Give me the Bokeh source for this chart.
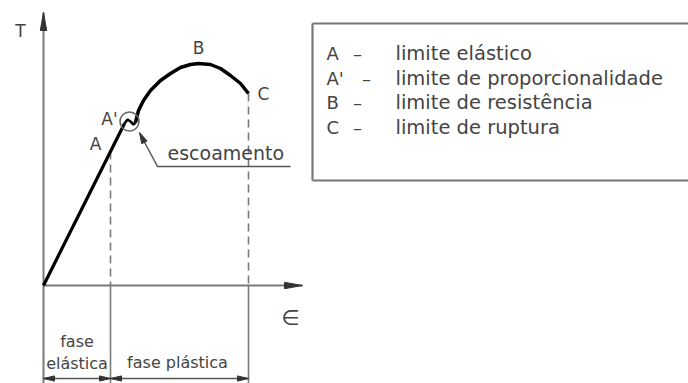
import numpy as np
from bokeh.plotting import figure
from bokeh.models import Range1d
from bokeh.core.properties import value
from bokeh.embed import file_html
from bokeh.resources import INLINE

# ---- data (strain ε, stress T in diagram units) ----
elastic_strain = [0, 81]
elastic_stress = [0, 162]
yield_strain = [81, 84, 87, 90, 92]
yield_stress = [162, 166, 164, 161, 163]
plastic_strain = [92, 95, 100, 107, 117, 127, 137, 147, 155, 167, 177, 187, 197, 205]
plastic_stress = [163, 175, 185, 195, 205, 212, 218, 221, 222, 221, 217, 210, 202, 192]

point_labels = ["A", "A'", "B", "C"]
legend_keys = ["A", "A'", "B", "C"]
legend_texts = ["limite elástico", "limite de proporcionalidade",
                "limite de resistência", "limite de ruptura"]
phase_labels = ["fase\nelástica", "fase plástica"]

# key positions derived from data
eps_A = 67                      # end of elastic phase (strain at A)
eps_C = plastic_strain[-1]      # rupture strain
T_A = elastic_stress[1] / elastic_strain[1] * eps_A
T_C = plastic_stress[-1]
iB = int(np.argmax(plastic_stress))

FONT = value("DejaVu Sans")
TXT = "#444444"
AX = "#7a7a7a"

p = figure(width=688, height=383, x_range=Range1d(-43, 645), y_range=Range1d(-98, 285),
           output_backend="svg", toolbar_location=None, min_border=0,
           x_axis_type=None, y_axis_type=None)
p.grid.visible = False
p.outline_line_color = None
p.background_fill_color = "white"
p.border_fill_color = "white"


def head(tx, ty, dx, dy, length, hw, color):
    n = np.hypot(dx, dy)
    ux, uy = dx / n, dy / n
    bx, by = tx - ux * length, ty - uy * length
    px, py = -uy * hw, ux * hw
    p.patch([tx, bx + px, bx - px], [ty, by + py, by - py], color=color, line_color=color)


y_top, y_bot, x_end = 273, -98, 259
# axes
p.segment(x0=[0, 0], y0=[y_bot, 0], x1=[0, x_end], y1=[y_top, 0], line_color=AX, line_width=2)
head(0, y_top, 0, 1, 18, 3.2, "#333333")
head(x_end, 0, 1, 0, 18, 3.2, "#333333")

# dashed projections and solid extension lines
p.segment(x0=[eps_A, eps_C], y0=[T_A, T_C], x1=[eps_A, eps_C], y1=[0, 0],
          line_color=AX, line_width=1.6, line_dash="8 5")
p.segment(x0=[eps_A, eps_C], y0=[0, 0], x1=[eps_A, eps_C], y1=[y_bot, y_bot],
          line_color=AX, line_width=1.6)

# dimension line
y_dim = -93
p.segment(x0=[0], y0=[y_dim], x1=[eps_C], y1=[y_dim], line_color="#555555", line_width=1.3)
for tx, d in [(0, -1), (eps_A, 1), (eps_A, -1), (eps_C, 1)]:
    head(tx, y_dim, d, 0, 11, 2.6, "#333333")

# curve
p.line(elastic_strain, elastic_stress, line_color="black", line_width=3.2)
p.line(yield_strain, yield_stress, line_color="black", line_width=2.6)
p.line(plastic_strain, plastic_stress, line_color="black", line_width=3.5, line_join="round")

# yield circle
p.circle(x=[yield_strain[2] - 1], y=[yield_stress[2]], radius=9.5,
         fill_color=None, line_color="#666666", line_width=1.6)

# escoamento leader
lead_y = 119
p.line([247, 114, 99], [lead_y, lead_y, 147], line_color="#555555", line_width=1.5)
head(96, 153, -15, 30, 11, 3, "#333333")
p.text(x=[124], y=[lead_y + 14], text=["escoamento"], text_font=FONT, text_font_size="19px",
       text_color=TXT, text_baseline="middle", text_align="left")

# point labels
lab_x = [52, 66, plastic_strain[iB], eps_C + 15]
lab_y = [142, 167, plastic_stress[iB] + 16, T_C]
p.text(x=lab_x, y=lab_y, text=point_labels, text_font=FONT, text_font_size="17px",
       text_color=TXT, text_align="center", text_baseline="middle")

# axis labels
p.text(x=[-23], y=[255], text=["T"], text_font=FONT, text_font_size="17px",
       text_color=TXT, text_align="center", text_baseline="middle")
p.text(x=[x_end - 12], y=[-32], text=["∈"], text_font=FONT, text_font_size="21px",
       text_color=TXT, text_align="center", text_baseline="middle")

# phase labels
p.text(x=[eps_A / 2], y=[-67], text=[phase_labels[0]], text_font=FONT, text_font_size="16px",
       text_color=TXT, text_align="center", text_baseline="middle", text_line_height=1.15)
p.text(x=[(eps_A + eps_C) / 2 - 2], y=[-77], text=[phase_labels[1]], text_font=FONT,
       text_font_size="16px", text_color=TXT, text_align="center", text_baseline="middle")

# legend box (open to the right)
box_l, box_r, box_t, box_b = 269, 660, 262, 105
p.segment(x0=[box_l, box_l, box_l], y0=[box_b, box_t, box_b],
          x1=[box_l, box_r, box_r], y1=[box_t, box_t, box_b],
          line_color="#777777", line_width=2.2)
rows = 232 - 24.7 * np.arange(len(legend_keys))
p.text(x=[283] * len(rows), y=rows, text=legend_keys, text_font=FONT, text_font_size="18px",
       text_color=TXT, text_align="left", text_baseline="middle")
p.text(x=[314, 323, 314, 314], y=rows, text=["–"] * len(rows), text_font=FONT,
       text_font_size="18px", text_color=TXT, text_align="center", text_baseline="middle")
p.text(x=[352] * len(rows), y=rows, text=legend_texts, text_font=FONT, text_font_size="19.5px",
       text_color=TXT, text_align="left", text_baseline="middle")

open("out.html", "w").write(file_html(p, INLINE))
